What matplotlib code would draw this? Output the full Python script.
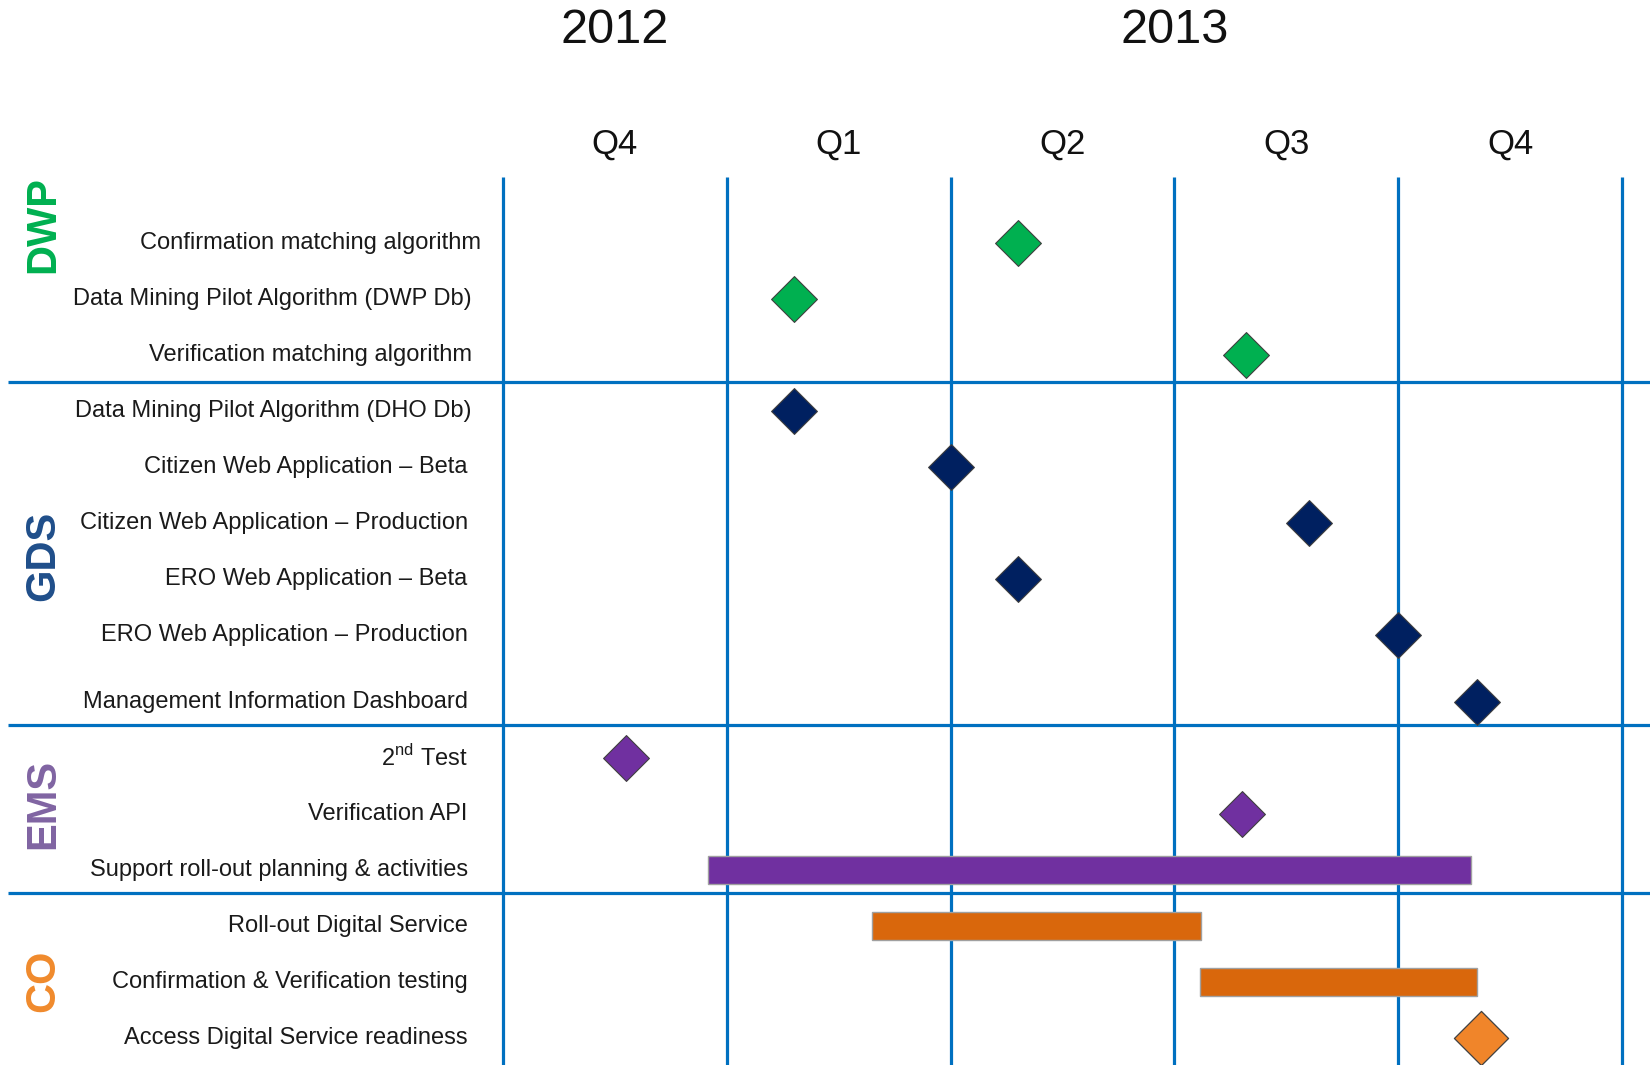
import matplotlib
matplotlib.use("Agg")
import matplotlib.pyplot as plt
from matplotlib.path import Path

plt.rcParams['font.family'] = ['Liberation Sans', 'DejaVu Sans']

# Hitos y actividades (x en trimestres desde el inicio de Q4 2012)
tareas = [
    "Confirmation matching algorithm",
    "Data Mining Pilot Algorithm (DWP Db)",
    "Verification matching algorithm",
    "Data Mining Pilot Algorithm (DHO Db)",
    "Citizen Web Application – Beta",
    "Citizen Web Application – Production",
    "ERO Web Application – Beta",
    "ERO Web Application – Production",
    "Management Information Dashboard",
    "2$^{\\mathregular{nd}}$ Test",
    "Verification API",
    "Support roll-out planning & activities",
    "Roll-out Digital Service",
    "Confirmation & Verification testing",
    "Access Digital Service readiness",
]
grupo_tarea = ["DWP"] * 3 + ["GDS"] * 6 + ["EMS"] * 3 + ["CO"] * 3
inicio = [2.30, 1.30, 3.32, 1.30, 2.00, 3.60, 2.30, 4.00, 4.35,
          0.55, 3.30, 0.915, 1.65, 3.115, 4.37]
fin = [None, None, None, None, None, None, None, None, None,
       None, None, 4.325, 3.12, 4.35, None]

grupos = ["DWP", "GDS", "EMS", "CO"]
trimestres = ["Q4", "Q1", "Q2", "Q3", "Q4"]
anios = ["2012", "2013"]
anio_centro = [0.5, 3.0]

# Colores
azul_linea = "#0070C0"
col_grupo = {"DWP": "#00B050", "GDS": "#1F4E8A", "EMS": "#8064A2", "CO": "#F08A2C"}
col_marca = {"DWP": "#00B050", "GDS": "#002060", "EMS": "#7030A0", "CO": "#D9670C"}
col_especial = "#F0852A"

# Posicion vertical de cada fila y borde derecho de cada etiqueta
filas = [0, 1, 2, 3, 4, 5, 6, 7, 8.2, 9.2, 10.2, 11.2, 12.2, 13.2, 14.2]
borde_texto = [-0.10, -0.14, -0.14, -0.14, -0.158, -0.158, -0.158, -0.158, -0.158,
               -0.155, -0.158, -0.158, -0.158, -0.158, -0.158]
separadores = [2.48, 8.6, 11.6]
grupo_y = {"DWP": -0.32, "GDS": 5.59, "EMS": 10.02, "CO": 13.18}

rombo = Path([(0, 1), (1, 0), (0, -1), (-1, 0), (0, 1)],
             [Path.MOVETO, Path.LINETO, Path.LINETO, Path.LINETO, Path.CLOSEPOLY])

fig = plt.figure(figsize=(16.5, 10.65), dpi=100)
ax = fig.add_axes([0, 0, 1, 1])
ax.set_xlim(-2.2475, 5.125)
ax.set_ylim(14.679, -4.339)
ax.axis("off")

# Rejilla de trimestres
ax.vlines(range(len(trimestres) + 1), -1.18, 14.68, color=azul_linea, lw=2.3, zorder=1)
ax.hlines(separadores, -2.212, 5.125, color=azul_linea, lw=2.3, zorder=1)

for i, q in enumerate(trimestres):
    ax.text(i + 0.5, -1.77, q, ha="center", va="center", fontsize=25, color="#111111")
for a, xc in zip(anios, anio_centro):
    ax.text(xc, -3.8, a, ha="center", va="center", fontsize=35, color="#111111")

for g in grupos:
    ax.text(-2.055, grupo_y[g], g, rotation=90, ha="center", va="center",
            fontsize=30, fontweight="bold", color=col_grupo[g])

for i, t in enumerate(tareas):
    g = grupo_tarea[i]
    y = filas[i]
    ax.text(borde_texto[i], y, t, ha="right", va="center", fontsize=17, color="#1a1a1a")
    if fin[i] is not None:
        ax.barh(y, fin[i] - inicio[i], left=inicio[i], height=0.5,
                color=col_marca[g], edgecolor="#A0A0A0", lw=1, zorder=2)
    elif i == len(tareas) - 1:
        ax.plot(inicio[i], y, marker=rombo, ms=39, color=col_especial,
                mec="#404040", mew=0.9, zorder=3)
    else:
        ax.plot(inicio[i], y, marker=rombo, ms=33, color=col_marca[g],
                mec="#404040", mew=0.8, zorder=3)

fig.savefig("out.png", dpi=100)
